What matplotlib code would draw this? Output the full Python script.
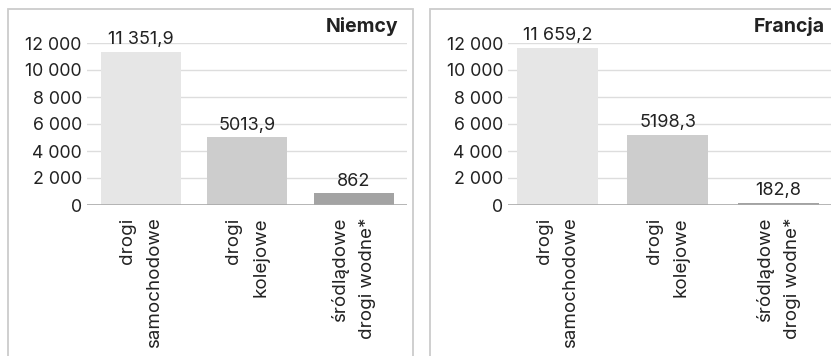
import matplotlib
matplotlib.use("Agg")
import matplotlib.pyplot as plt
from matplotlib.patches import Rectangle

plt.rcParams['font.family'] = ['Inter', 'DejaVu Sans']

categories = ["drogi\nsamochodowe", "drogi\nkolejowe", "śródlądowe\ndrogi wodne*"]
niemcy_values = [11351.9, 5013.9, 862]
francja_values = [11659.2, 5198.3, 182.8]
niemcy_labels = ["11 351,9", "5013,9", "862"]
francja_labels = ["11 659,2", "5198,3", "182,8"]
yticks = [0, 2000, 4000, 6000, 8000, 10000, 12000]
ytick_labels = ["0", "2 000", "4 000", "6 000", "8 000", "10 000", "12 000"]
titles = ["Niemcy", "Francja"]

W, H = 831, 356
fig = plt.figure(figsize=(W / 100, H / 100), dpi=100)

bar_colors = ["#e6e6e6", "#cdcdcd", "#a3a3a3"]
text_color = "#222222"

def px_axes(x0, x1, ytop, ybot):
    return [x0 / W, 1 - ybot / H, (x1 - x0) / W, (ybot - ytop) / H]

# panel frames
for (x0, x1) in [(8, 413), (430, 845)]:
    fig.patches.append(Rectangle((x0 / W, -0.1), (x1 - x0) / W, 1 - 9 / H + 0.1,
                                 transform=fig.transFigure, fill=False,
                                 edgecolor="#cccccc", linewidth=1.3, zorder=0))

panels = [
    dict(rect=px_axes(86.7, 406.7, 43, 205), xlim=(-0.507, 2.498), width=0.75,
         values=niemcy_values, labels=niemcy_labels, title=titles[0], tx=398 / W),
    dict(rect=px_axes(508, 840, 43, 205), xlim=(-0.448, 2.557), width=0.733,
         values=francja_values, labels=francja_labels, title=titles[1], tx=825 / W),
]

for p in panels:
    ax = fig.add_axes(p["rect"])
    ax.set_facecolor("none")
    x = list(range(len(categories)))
    ax.bar(x, p["values"], width=p["width"], color=bar_colors, zorder=2)
    ax.set_xlim(*p["xlim"])
    ax.set_ylim(0, 12000)
    for s in ax.spines.values():
        s.set_visible(False)
    ax.set_yticks(yticks)
    ax.set_yticklabels(ytick_labels, fontsize=12.8, color=text_color)
    ax.tick_params(axis="y", length=0, pad=3.5)
    ax.yaxis.grid(True, color="#dddddd", linewidth=1, zorder=0)
    ax.set_axisbelow(True)
    ax.axhline(0, color="#aaaaaa", linewidth=1.2, zorder=3)
    ax.set_xticks(x)
    ax.set_xticklabels(categories, rotation=90, fontsize=13.5, color=text_color,
                       ha="center", va="top", multialignment="right",
                       linespacing=1.75)
    ax.tick_params(axis="x", length=0, pad=9)
    for xi, v, lab in zip(x, p["values"], p["labels"]):
        ax.annotate(lab, (xi, v), xytext=(0, 5.5), textcoords="offset points",
                    ha="center", va="baseline", fontsize=13, color=text_color,
                    annotation_clip=False)
    fig.text(p["tx"], 1 - 32 / H, p["title"], ha="right", va="baseline",
             fontsize=14, fontweight="bold", color=text_color)

fig.savefig("out.png", dpi=100)
